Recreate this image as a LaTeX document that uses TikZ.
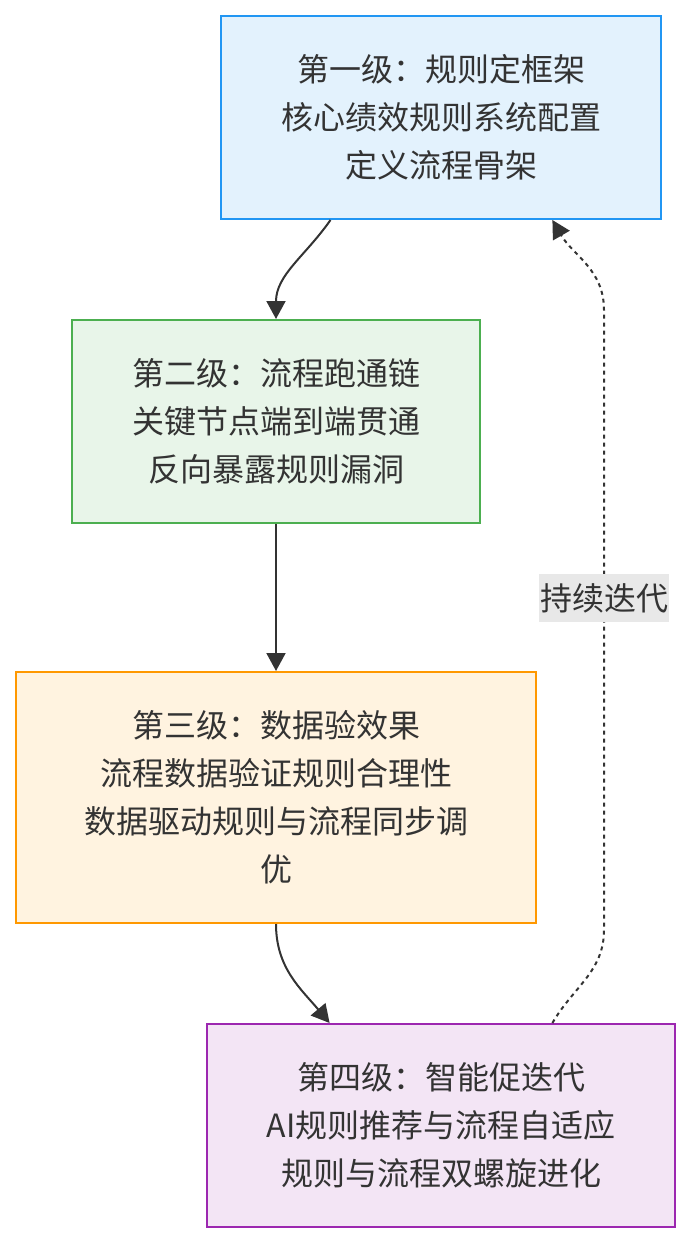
\documentclass[tikz,border=0pt]{standalone}
\usepackage{fontspec}
\setmainfont{Noto Sans CJK SC}
\usepackage{xcolor}
\usepackage{tikz}
\usetikzlibrary{arrows.meta, positioning, calc}

\definecolor{txtgray}{HTML}{333333}
\definecolor{blueFill}{HTML}{E3F2FD}\definecolor{blueLine}{HTML}{2196F3}
\definecolor{greenFill}{HTML}{E8F5E9}\definecolor{greenLine}{HTML}{4CAF50}
\definecolor{orangeFill}{HTML}{FFF3E0}\definecolor{orangeLine}{HTML}{FF9800}
\definecolor{purpleFill}{HTML}{F3E5F5}\definecolor{purpleLine}{HTML}{9C27B0}
\definecolor{labelFill}{HTML}{E8E8E8}

\begin{document}
\begin{tikzpicture}[
    x=1pt, y=1pt,
    box/.style={rectangle, draw, line width=2pt, inner sep=0pt, align=center, text=txtgray,
        font=\fontsize{32pt}{48pt}\selectfont, minimum height=203pt},
    arrow/.style={-{Triangle[length=18pt,width=19pt]}, line width=2pt, draw=txtgray},
    loopback/.style={arrow, dash pattern=on 4pt off 4pt},
    tag/.style={fill=labelFill, text=txtgray, font=\fontsize{32pt}{48pt}\selectfont,
        inner xsep=1pt, inner ysep=0pt, minimum height=48pt}
]
    \useasboundingbox (0,0) rectangle (690,-1244);

    \node[box, fill=blueFill, draw=blueLine, minimum width=440pt] (rules) at (441,-117.5)
        {第一级：规则定框架\\核心绩效规则系统配置\\定义流程骨架};
    \node[box, fill=greenFill, draw=greenLine, minimum width=408pt] (flow) at (276,-421.5)
        {第二级：流程跑通链\\关键节点端到端贯通\\反向暴露规则漏洞};
    \node[box, fill=orangeFill, draw=orangeLine, minimum width=520pt, minimum height=251pt] (data) at (276,-797.5)
        {第三级：数据验效果\\流程数据验证规则合理性\\数据驱动规则与流程同步调\\优};
    \node[box, fill=purpleFill, draw=purpleLine, minimum width=468pt] (smart) at (441,-1125.5)
        {第四级：智能促迭代\\AI规则推荐与流程自适应\\规则与流程双螺旋进化};

    \coordinate (upTop) at (604,-310);
    \coordinate (upBot) at (604,-930);

    \draw[arrow] ($(rules.south west)!0.25!(rules.south east)$) to[out=-125, in=90] (flow.north);
    \draw[arrow] (flow.south) -- (data.north);
    \draw[arrow] (data.south) to[out=-90, in=130] ($(smart.north west)!0.263!(smart.north east)$);
    \draw[loopback] ($(smart.north west)!0.737!(smart.north east)$) to[out=60, in=-90] (upBot)
        -- node[tag, pos=0.535] (iter) {持续迭代} (upTop)
        to[out=90, in=-60] ($(rules.south west)!0.752!(rules.south east)$);
\end{tikzpicture}
\end{document}
